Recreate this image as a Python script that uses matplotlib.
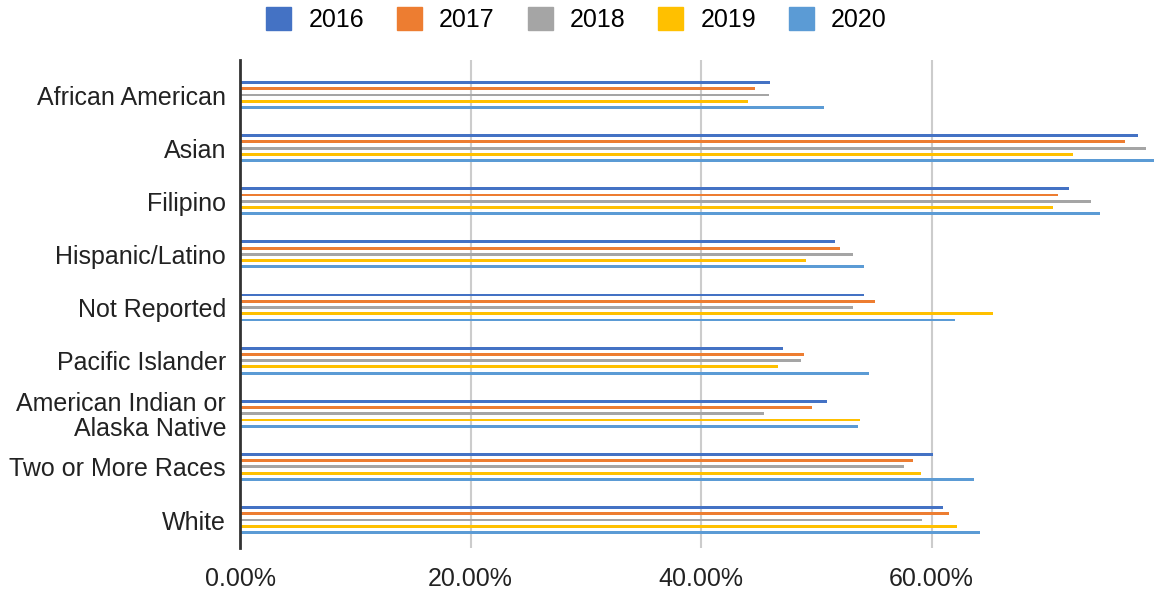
import numpy as np
import matplotlib.pyplot as plt
from matplotlib.patches import Patch
from matplotlib.ticker import FuncFormatter

plt.rcParams['font.family'] = ['Liberation Sans', 'DejaVu Sans']

groups = ['African American', 'Asian', 'Filipino', 'Hispanic/Latino', 'Not Reported',
          'Pacific Islander', 'American Indian or\nAlaska Native', 'Two or More Races', 'White']
years = ['2016', '2017', '2018', '2019', '2020']
colors = ['#4472C4', '#ED7D31', '#A5A5A5', '#FFC000', '#5B9BD5']

# percentages
v2016 = [46.0, 77.9, 71.9, 51.6, 54.1, 47.1, 50.9, 60.1, 61.0]
v2017 = [44.7, 76.8, 71.0, 52.1, 55.1, 48.9, 49.6, 58.4, 61.5]
v2018 = [45.9, 78.6, 73.8, 53.2, 53.2, 48.7, 45.5, 57.6, 59.2]
v2019 = [44.1, 72.3, 70.5, 49.1, 65.3, 46.7, 53.8, 59.1, 62.2]
v2020 = [50.7, 80.0, 74.6, 54.1, 62.0, 54.6, 53.6, 63.7, 64.2]
series = [v2016, v2017, v2018, v2019, v2020]

fig = plt.figure(figsize=(11.54, 5.97), dpi=100)
ax = fig.add_axes([240 / 1154, 1 - 548 / 597, (1154 - 240) / 1154, 488 / 597])

y = np.arange(len(groups))
step = 0.1176
for i, (yr, vals) in enumerate(zip(years, series)):
    ax.barh(y + (i - 2) * step, vals, height=0.055, color=colors[i], label=yr, zorder=3)

ax.set_ylim(8.527, -0.659)
ax.set_xlim(0, 79.3)
ax.set_yticks(y)
ax.set_yticklabels(groups, fontsize=18, color='#222222', linespacing=1.03)
ax.set_xticks([0, 20, 40, 60])
ax.xaxis.set_major_formatter(FuncFormatter(lambda v, p: f'{v:.2f}%'))
ax.tick_params(axis='x', labelsize=18, colors='#222222', length=0, pad=14)
ax.tick_params(axis='y', length=0, pad=10)
ax.grid(axis='x', color='#cccccc', linewidth=1.5, zorder=0)
for s in ['top', 'right', 'bottom']:
    ax.spines[s].set_visible(False)
ax.spines['left'].set_color('#333333')
ax.spines['left'].set_linewidth(2)
ax.spines['left'].set_zorder(4)

handles = [Patch(facecolor=c, edgecolor=c, label=yr) for c, yr in zip(colors, years)]
fig.legend(handles=handles, loc='center', bbox_to_anchor=(0.4996, 1 - 19.5 / 597), ncol=5,
           frameon=False, fontsize=18, handlelength=1.0, handleheight=1.0,
           handletextpad=0.68, columnspacing=1.32, borderpad=0)

fig.savefig('out.png', dpi=100)
